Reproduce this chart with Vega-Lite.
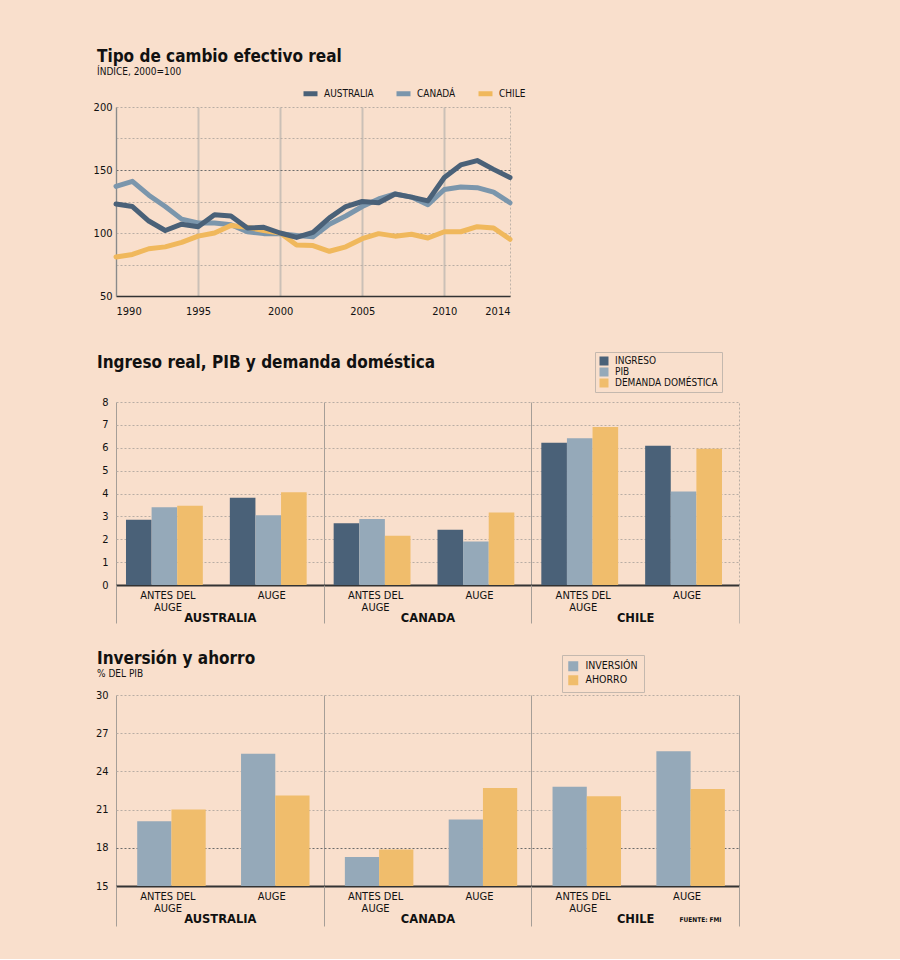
{
  "$schema": "https://vega.github.io/schema/vega-lite/v6.json",
  "background": "#f9dfcc",
  "padding": {"left": 93, "top": 48, "right": 160, "bottom": 32},
  "spacing": 25,
  "resolve": {"scale": {"color": "independent", "x": "independent", "y": "independent", "xOffset": "independent"}, "legend": {"color": "independent"}},
  "config": {
    "font": "DejaVu Sans Condensed",
    "view": {"stroke": null},
    "axis": {"labelFont": "DejaVu Sans Condensed", "labelFontSize": 11, "labelColor": "#111111", "ticks": false},
    "title": {"font": "DejaVu Sans Condensed", "fontSize": 17, "fontWeight": "bold", "color": "#111111", "anchor": "start", "frame": "group", "dx": -19, "subtitleFont": "DejaVu Sans Condensed", "subtitleFontSize": 10, "subtitleColor": "#111111", "subtitlePadding": 1},
    "legend": {"labelFont": "DejaVu Sans Condensed", "labelFontSize": 10, "labelColor": "#111111"}
  },
  "vconcat": [
    {
      "width": 394,
      "height": 189,
      "title": {"text": "Tipo de cambio efectivo real", "subtitle": "ÍNDICE, 2000=100", "offset": 6},
      "data": {"values": [
        {"anio": 1990, "pais": "AUSTRALIA", "valor": 123}, {"anio": 1991, "pais": "AUSTRALIA", "valor": 121}, {"anio": 1992, "pais": "AUSTRALIA", "valor": 109.5}, {"anio": 1993, "pais": "AUSTRALIA", "valor": 102}, {"anio": 1994, "pais": "AUSTRALIA", "valor": 107}, {"anio": 1995, "pais": "AUSTRALIA", "valor": 105}, {"anio": 1996, "pais": "AUSTRALIA", "valor": 114.5}, {"anio": 1997, "pais": "AUSTRALIA", "valor": 113.5}, {"anio": 1998, "pais": "AUSTRALIA", "valor": 104}, {"anio": 1999, "pais": "AUSTRALIA", "valor": 104.5}, {"anio": 2000, "pais": "AUSTRALIA", "valor": 100}, {"anio": 2001, "pais": "AUSTRALIA", "valor": 96.5}, {"anio": 2002, "pais": "AUSTRALIA", "valor": 100.5}, {"anio": 2003, "pais": "AUSTRALIA", "valor": 112}, {"anio": 2004, "pais": "AUSTRALIA", "valor": 121}, {"anio": 2005, "pais": "AUSTRALIA", "valor": 125}, {"anio": 2006, "pais": "AUSTRALIA", "valor": 124}, {"anio": 2007, "pais": "AUSTRALIA", "valor": 131}, {"anio": 2008, "pais": "AUSTRALIA", "valor": 128.5}, {"anio": 2009, "pais": "AUSTRALIA", "valor": 125.5}, {"anio": 2010, "pais": "AUSTRALIA", "valor": 144}, {"anio": 2011, "pais": "AUSTRALIA", "valor": 154}, {"anio": 2012, "pais": "AUSTRALIA", "valor": 157.5}, {"anio": 2013, "pais": "AUSTRALIA", "valor": 150.5}, {"anio": 2014, "pais": "AUSTRALIA", "valor": 144},
        {"anio": 1990, "pais": "CANADÁ", "valor": 137}, {"anio": 1991, "pais": "CANADÁ", "valor": 141}, {"anio": 1992, "pais": "CANADÁ", "valor": 130}, {"anio": 1993, "pais": "CANADÁ", "valor": 121}, {"anio": 1994, "pais": "CANADÁ", "valor": 111}, {"anio": 1995, "pais": "CANADÁ", "valor": 108}, {"anio": 1996, "pais": "CANADÁ", "valor": 108}, {"anio": 1997, "pais": "CANADÁ", "valor": 106.5}, {"anio": 1998, "pais": "CANADÁ", "valor": 101}, {"anio": 1999, "pais": "CANADÁ", "valor": 99.5}, {"anio": 2000, "pais": "CANADÁ", "valor": 99.5}, {"anio": 2001, "pais": "CANADÁ", "valor": 98}, {"anio": 2002, "pais": "CANADÁ", "valor": 97}, {"anio": 2003, "pais": "CANADÁ", "valor": 107}, {"anio": 2004, "pais": "CANADÁ", "valor": 113.5}, {"anio": 2005, "pais": "CANADÁ", "valor": 121}, {"anio": 2006, "pais": "CANADÁ", "valor": 127}, {"anio": 2007, "pais": "CANADÁ", "valor": 131}, {"anio": 2008, "pais": "CANADÁ", "valor": 128.5}, {"anio": 2009, "pais": "CANADÁ", "valor": 122.5}, {"anio": 2010, "pais": "CANADÁ", "valor": 134.5}, {"anio": 2011, "pais": "CANADÁ", "valor": 136.5}, {"anio": 2012, "pais": "CANADÁ", "valor": 136}, {"anio": 2013, "pais": "CANADÁ", "valor": 132.5}, {"anio": 2014, "pais": "CANADÁ", "valor": 124},
        {"anio": 1990, "pais": "CHILE", "valor": 81}, {"anio": 1991, "pais": "CHILE", "valor": 83}, {"anio": 1992, "pais": "CHILE", "valor": 87.5}, {"anio": 1993, "pais": "CHILE", "valor": 89}, {"anio": 1994, "pais": "CHILE", "valor": 92.5}, {"anio": 1995, "pais": "CHILE", "valor": 97.5}, {"anio": 1996, "pais": "CHILE", "valor": 100}, {"anio": 1997, "pais": "CHILE", "valor": 106}, {"anio": 1998, "pais": "CHILE", "valor": 104.5}, {"anio": 1999, "pais": "CHILE", "valor": 102}, {"anio": 2000, "pais": "CHILE", "valor": 100}, {"anio": 2001, "pais": "CHILE", "valor": 90.5}, {"anio": 2002, "pais": "CHILE", "valor": 90}, {"anio": 2003, "pais": "CHILE", "valor": 85.5}, {"anio": 2004, "pais": "CHILE", "valor": 89}, {"anio": 2005, "pais": "CHILE", "valor": 95.5}, {"anio": 2006, "pais": "CHILE", "valor": 99.5}, {"anio": 2007, "pais": "CHILE", "valor": 97.5}, {"anio": 2008, "pais": "CHILE", "valor": 99}, {"anio": 2009, "pais": "CHILE", "valor": 96}, {"anio": 2010, "pais": "CHILE", "valor": 101}, {"anio": 2011, "pais": "CHILE", "valor": 101}, {"anio": 2012, "pais": "CHILE", "valor": 105}, {"anio": 2013, "pais": "CHILE", "valor": 104}, {"anio": 2014, "pais": "CHILE", "valor": 95}
      ]},
      "encoding": {
        "x": {"field": "anio", "type": "quantitative", "scale": {"domain": [1990, 2014], "nice": false, "zero": false},
          "axis": {"title": null, "values": [1990, 1995, 2000, 2005, 2010, 2014], "format": "d", "grid": true,
            "gridColor": {"condition": {"test": "datum.value == 2014", "value": "#bfb3a9"}, "value": "#cbc0b7"},
            "gridWidth": {"condition": {"test": "datum.value == 2014", "value": 1}, "value": 2},
            "gridDash": {"condition": {"test": "datum.value == 2014", "value": [2, 2]}, "value": []},
            "domain": true, "domainColor": "#333333", "domainWidth": 1.5, "labelPadding": 9, "minExtent": 30}},
        "y": {"field": "valor", "type": "quantitative", "scale": {"domain": [50, 200], "nice": false, "zero": false},
          "axis": {"title": null, "values": [50, 75, 100, 125, 150, 175, 200], "labelExpr": "datum.value % 50 == 0 ? datum.label : ''", "grid": true,
            "gridDash": [2, 2], "gridColor": {"condition": {"test": "datum.value == 150", "value": "#6b6b6b"}, "value": "#b8ada4"},
            "domain": true, "domainColor": "#8a8a8a", "domainWidth": 1, "labelPadding": 4}},
        "color": {"field": "pais", "type": "nominal", "scale": {"domain": ["AUSTRALIA", "CANADÁ", "CHILE"], "range": ["#4a6178", "#7b96ac", "#f0b85c"]},
          "legend": {"title": null, "orient": "none", "legendX": 185, "legendY": -23, "direction": "horizontal", "symbolType": "stroke", "symbolStrokeWidth": 5, "symbolSize": 196, "columnPadding": 12, "labelFontSize": 10}}
      },
      "layer": [
        {"transform": [{"filter": "datum.pais == 'CANADÁ'"}], "mark": {"type": "line", "strokeWidth": 5, "strokeCap": "round", "strokeJoin": "round"}},
        {"transform": [{"filter": "datum.pais == 'CHILE'"}], "mark": {"type": "line", "strokeWidth": 5, "strokeCap": "round", "strokeJoin": "round"}},
        {"transform": [{"filter": "datum.pais == 'AUSTRALIA'"}], "mark": {"type": "line", "strokeWidth": 5, "strokeCap": "round", "strokeJoin": "round"}}
      ]
    },
    {
      "width": 623,
      "height": 183,
      "title": {"text": "Ingreso real, PIB y demanda doméstica", "offset": -20},
      "data": {"values": [
        {"pais": "AUSTRALIA", "grupo": "AUSTRALIA ANTES", "serie": "INGRESO", "valor": 2.85},
        {"pais": "AUSTRALIA", "grupo": "AUSTRALIA ANTES", "serie": "PIB", "valor": 3.4},
        {"pais": "AUSTRALIA", "grupo": "AUSTRALIA ANTES", "serie": "DEMANDA DOMÉSTICA", "valor": 3.46},
        {"pais": "AUSTRALIA", "grupo": "AUSTRALIA AUGE", "serie": "INGRESO", "valor": 3.81},
        {"pais": "AUSTRALIA", "grupo": "AUSTRALIA AUGE", "serie": "PIB", "valor": 3.05},
        {"pais": "AUSTRALIA", "grupo": "AUSTRALIA AUGE", "serie": "DEMANDA DOMÉSTICA", "valor": 4.06},
        {"pais": "CANADA", "grupo": "CANADA ANTES", "serie": "INGRESO", "valor": 2.7},
        {"pais": "CANADA", "grupo": "CANADA ANTES", "serie": "PIB", "valor": 2.88},
        {"pais": "CANADA", "grupo": "CANADA ANTES", "serie": "DEMANDA DOMÉSTICA", "valor": 2.15},
        {"pais": "CANADA", "grupo": "CANADA AUGE", "serie": "INGRESO", "valor": 2.42},
        {"pais": "CANADA", "grupo": "CANADA AUGE", "serie": "PIB", "valor": 1.9},
        {"pais": "CANADA", "grupo": "CANADA AUGE", "serie": "DEMANDA DOMÉSTICA", "valor": 3.17},
        {"pais": "CHILE", "grupo": "CHILE ANTES", "serie": "INGRESO", "valor": 6.22},
        {"pais": "CHILE", "grupo": "CHILE ANTES", "serie": "PIB", "valor": 6.41},
        {"pais": "CHILE", "grupo": "CHILE ANTES", "serie": "DEMANDA DOMÉSTICA", "valor": 6.91},
        {"pais": "CHILE", "grupo": "CHILE AUGE", "serie": "INGRESO", "valor": 6.09},
        {"pais": "CHILE", "grupo": "CHILE AUGE", "serie": "PIB", "valor": 4.09},
        {"pais": "CHILE", "grupo": "CHILE AUGE", "serie": "DEMANDA DOMÉSTICA", "valor": 5.96}
      ]},
      "layer": [
        {
          "mark": {"type": "bar"},
          "encoding": {
            "x": {"field": "grupo", "type": "nominal", "sort": null,
              "scale": {"domain": ["AUSTRALIA ANTES", "AUSTRALIA AUGE", "CANADA ANTES", "CANADA AUGE", "CHILE ANTES", "CHILE AUGE"], "paddingInner": 0, "paddingOuter": 0},
              "axis": {"title": null, "labelAngle": 0, "labelExpr": "indexof(datum.value, 'ANTES') >= 0 ? ['ANTES DEL', 'AUGE'] : 'AUGE'", "labelBaseline": "top", "labelLineHeight": 12, "labelPadding": 4, "labelFontSize": 11, "domain": true, "domainColor": "#333333", "domainWidth": 2, "ticks": false, "grid": false}},
            "xOffset": {"field": "serie", "type": "nominal", "sort": null, "scale": {"domain": ["INGRESO", "PIB", "DEMANDA DOMÉSTICA"], "paddingOuter": 0.527, "paddingInner": 0, "align": 0.37}},
            "y": {"field": "valor", "type": "quantitative", "scale": {"domain": [0, 8], "nice": false},
              "axis": {"title": null, "values": [0, 1, 2, 3, 4, 5, 6, 7, 8], "grid": true, "gridDash": [2, 2], "gridColor": "#b8ada4", "domain": false, "labelPadding": 8}},
            "color": {"field": "serie", "type": "nominal", "sort": null, "scale": {"domain": ["INGRESO", "PIB", "DEMANDA DOMÉSTICA"], "range": ["#4a6178", "#95a9b9", "#f0bd6c"]},
              "legend": {"title": null, "orient": "none", "legendX": 479, "legendY": -50, "symbolType": "square", "symbolSize": 81, "symbolStrokeWidth": 0, "strokeColor": "#c4b8ae", "padding": 4, "rowPadding": 1, "labelFontSize": 10, "labelOffset": 6}}
          }
        },
        {
          "mark": {"type": "rule", "opacity": 0},
          "encoding": {
            "x": {"field": "pais", "type": "nominal", "sort": null,
              "scale": {"domain": ["AUSTRALIA", "CANADA", "CHILE"], "paddingInner": 0, "paddingOuter": 0},
              "axis": {"orient": "bottom", "title": null, "labelAngle": 0, "labelFont": "DejaVu Sans", "labelFontWeight": "bold", "labelFontSize": 11.5, "labelBaseline": "top",
                "grid": true, "gridWidth": 1,
                "gridColor": {"condition": {"test": "datum.value == 'CHILE'", "value": "#b8ada4"}, "value": "#a69e97"},
                "gridDash": {"condition": {"test": "datum.value == 'CHILE'", "value": [2, 2]}, "value": []},
                "tickBand": "extent", "ticks": true, "tickSize": 38, "tickWidth": 1,
                "tickColor": {"condition": {"test": "datum.value == 'CHILE'", "value": "#c4b8ae"}, "value": "#a69e97"},
                "domain": false, "labelPadding": -11}}
          }
        }
      ],
      "resolve": {"scale": {"x": "independent"}}
    },
    {
      "width": 623,
      "height": 191,
      "title": {"text": "Inversión y ahorro", "subtitle": "% DEL PIB", "offset": -25},
      "data": {"values": [
        {"pais": "AUSTRALIA", "grupo": "AUSTRALIA ANTES", "serie": "INVERSIÓN", "valor": 20.09},
        {"pais": "AUSTRALIA", "grupo": "AUSTRALIA ANTES", "serie": "AHORRO", "valor": 21.0},
        {"pais": "AUSTRALIA", "grupo": "AUSTRALIA AUGE", "serie": "INVERSIÓN", "valor": 25.38},
        {"pais": "AUSTRALIA", "grupo": "AUSTRALIA AUGE", "serie": "AHORRO", "valor": 22.1},
        {"pais": "CANADA", "grupo": "CANADA ANTES", "serie": "INVERSIÓN", "valor": 17.27},
        {"pais": "CANADA", "grupo": "CANADA ANTES", "serie": "AHORRO", "valor": 17.87},
        {"pais": "CANADA", "grupo": "CANADA AUGE", "serie": "INVERSIÓN", "valor": 20.22},
        {"pais": "CANADA", "grupo": "CANADA AUGE", "serie": "AHORRO", "valor": 22.7},
        {"pais": "CHILE", "grupo": "CHILE ANTES", "serie": "INVERSIÓN", "valor": 22.8},
        {"pais": "CHILE", "grupo": "CHILE ANTES", "serie": "AHORRO", "valor": 22.04},
        {"pais": "CHILE", "grupo": "CHILE AUGE", "serie": "INVERSIÓN", "valor": 25.59},
        {"pais": "CHILE", "grupo": "CHILE AUGE", "serie": "AHORRO", "valor": 22.62}
      ]},
      "layer": [
        {
          "mark": {"type": "bar"},
          "encoding": {
            "x": {"field": "grupo", "type": "nominal", "sort": null,
              "scale": {"domain": ["AUSTRALIA ANTES", "AUSTRALIA AUGE", "CANADA ANTES", "CANADA AUGE", "CHILE ANTES", "CHILE AUGE"], "paddingInner": 0, "paddingOuter": 0},
              "axis": {"title": null, "labelAngle": 0, "labelExpr": "indexof(datum.value, 'ANTES') >= 0 ? ['ANTES DEL', 'AUGE'] : 'AUGE'", "labelBaseline": "top", "labelLineHeight": 12, "labelPadding": 4, "labelFontSize": 11, "domain": true, "domainColor": "#333333", "domainWidth": 2, "ticks": false, "grid": false}},
            "xOffset": {"field": "serie", "type": "nominal", "sort": null, "scale": {"domain": ["INVERSIÓN", "AHORRO"], "paddingOuter": 0.516, "paddingInner": 0, "align": 0.6}},
            "y": {"field": "valor", "type": "quantitative", "scale": {"domain": [15, 30], "nice": false, "zero": false},
              "axis": {"title": null, "values": [15, 18, 21, 24, 27, 30], "grid": true, "gridDash": [2, 2], "gridColor": {"condition": {"test": "datum.value == 18", "value": "#6b6b6b"}, "value": "#b8ada4"}, "domain": false, "labelPadding": 8}},
            "y2": {"datum": 15},
            "color": {"field": "serie", "type": "nominal", "sort": null, "scale": {"domain": ["INVERSIÓN", "AHORRO"], "range": ["#95a9b9", "#f0bd6c"]},
              "legend": {"title": null, "orient": "none", "legendX": 446, "legendY": -40, "symbolType": "square", "symbolSize": 100, "symbolStrokeWidth": 0, "strokeColor": "#c4b8ae", "padding": 6, "rowPadding": 3, "labelFontSize": 10.5, "labelOffset": 7}}
          }
        },
        {
          "mark": {"type": "rule", "opacity": 0},
          "encoding": {
            "x": {"field": "pais", "type": "nominal", "sort": null,
              "scale": {"domain": ["AUSTRALIA", "CANADA", "CHILE"], "paddingInner": 0, "paddingOuter": 0},
              "axis": {"orient": "bottom", "title": "FUENTE: FMI", "titleX": 605, "titleY": 33, "titleAlign": "right", "titleBaseline": "middle", "titleFontSize": 6.5, "titleFontWeight": "bold", "titleFont": "DejaVu Sans Condensed", "titleColor": "#111111",
                "labelAngle": 0, "labelFont": "DejaVu Sans", "labelFontWeight": "bold", "labelFontSize": 11.5, "labelBaseline": "top",
                "grid": true, "gridColor": "#a69e97", "gridWidth": 1,
                "tickBand": "extent", "ticks": true, "tickSize": 40, "tickWidth": 1, "tickColor": "#a69e97",
                "domain": false, "labelPadding": -13}}
          }
        }
      ],
      "resolve": {"scale": {"x": "independent"}}
    }
  ]
}
